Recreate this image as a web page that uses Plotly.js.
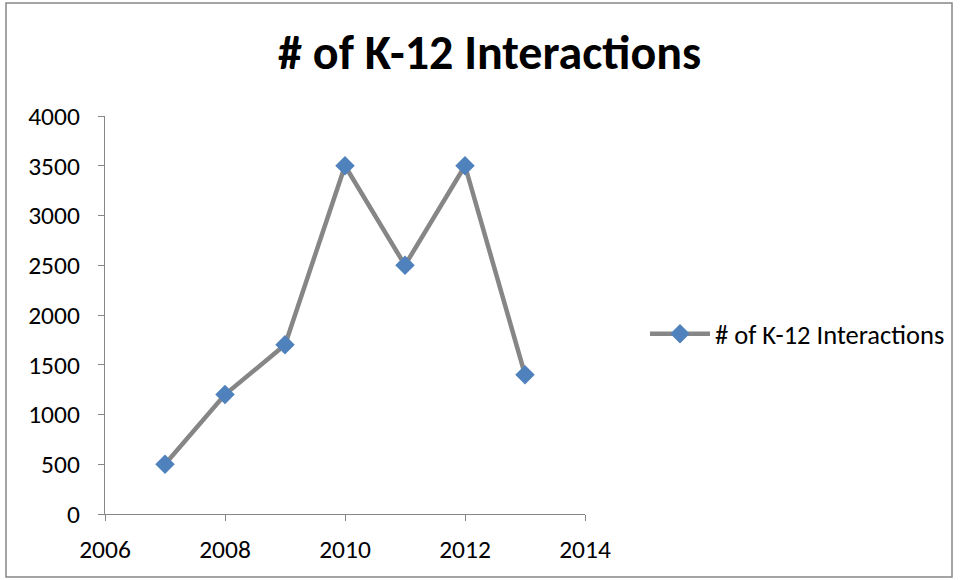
<!DOCTYPE html>
<html>
<head>
<meta charset="utf-8">
<script src="https://cdn.plot.ly/plotly-3.0.1.min.js"></script>
<style>
html,body{margin:0;padding:0;background:#fff;}
#chart{width:960px;height:580px;}
</style>
</head>
<body>
<div id="chart"></div>
<script>
const years = [2007, 2008, 2009, 2010, 2011, 2012, 2013];
const interactions = [500, 1200, 1700, 3500, 2500, 3500, 1400];
const seriesName = "# of K-12 Interactions";
const chartTitle = "# of K-12 Interactions";

const font = "Carlito, Calibri, 'Liberation Sans Narrow', 'Open Sans', sans-serif";

const trace = {
  x: years,
  y: interactions,
  type: "scatter",
  mode: "lines+markers",
  name: seriesName,
  line: {color: "#868686", width: 4.5},
  marker: {symbol: "diamond", color: "#4F81BD", size: 15, line: {width: 0}}
};

const layout = {
  width: 960,
  height: 580,
  paper_bgcolor: "#fff",
  plot_bgcolor: "#fff",
  margin: {l: 105, r: 375, t: 116, b: 66, autoexpand: false},
  title: {
    text: "<b>" + chartTitle + "</b>",
    font: {family: font, size: 48, color: "#000"},
    x: 0.51, xanchor: "center",
    y: 0.91, yanchor: "middle"
  },
  showlegend: true,
  legend: {
    x: 1.125, xanchor: "left",
    y: 0.452, yanchor: "middle",
    font: {family: font, size: 26.5, color: "#000"},
    itemwidth: 60,
    bgcolor: "rgba(0,0,0,0)"
  },
  xaxis: {
    range: [2006, 2014],
    tickvals: [2006, 2008, 2010, 2012, 2014],
    ticktext: ["2006", "2008", "2010", "2012", "2014"],
    showgrid: false,
    zeroline: false,
    showline: true,
    linecolor: "#868686",
    linewidth: 1,
    ticks: "outside",
    ticklen: 6,
    tickcolor: "#868686",
    ticklabelstandoff: 6,
    automargin: false,
    tickfont: {family: font, size: 25.5, color: "#000"}
  },
  yaxis: {
    range: [0, 4000],
    dtick: 500,
    tick0: 0,
    showgrid: false,
    zeroline: false,
    showline: true,
    linecolor: "#868686",
    linewidth: 1,
    ticks: "outside",
    ticklen: 6,
    tickcolor: "#868686",
    ticklabelstandoff: 13,
    automargin: false,
    tickfont: {family: font, size: 25.5, color: "#000"}
  },
  shapes: [{
    type: "rect",
    xref: "paper", yref: "paper",
    x0: (6 - 105) / 480, x1: (952 - 105) / 480,
    y0: (514 - 577) / 398, y1: (514 - 3) / 398,
    line: {color: "#868686", width: 1.5},
    fillcolor: "rgba(0,0,0,0)"
  }]
};

Plotly.newPlot("chart", [trace], layout, {displayModeBar: false, staticPlot: true});
</script>
</body>
</html>
